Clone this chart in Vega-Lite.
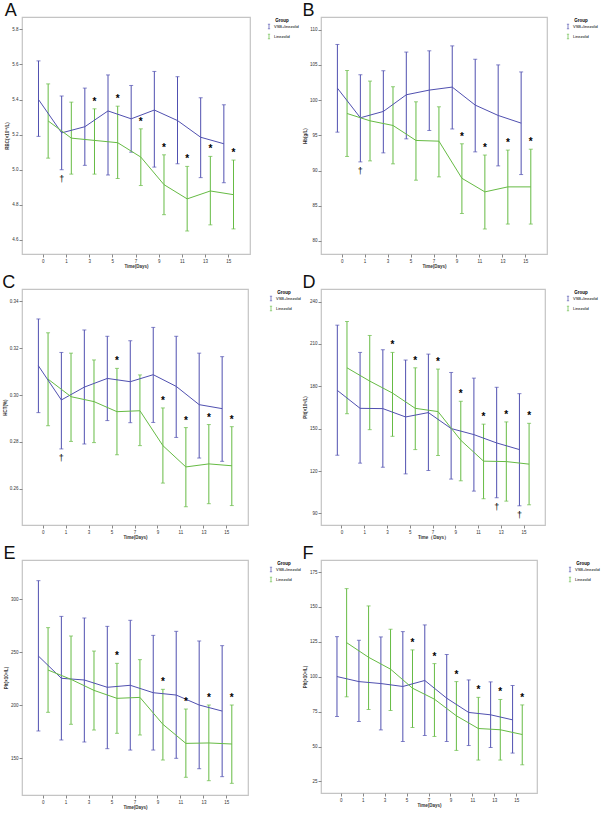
{
  "$schema": "https://vega.github.io/schema/vega-lite/v6.json",
  "padding": {"left": 1, "top": 1, "right": 0, "bottom": 0},
  "background": "white",
  "datasets": {
    "d": [
      {"p": "A", "day": "0", "g": "VSB+linezolid", "m": 5.40, "lo": 5.19, "hi": 5.62, "note": ""},
      {"p": "A", "day": "1", "g": "VSB+linezolid", "m": 5.21, "lo": 5.00, "hi": 5.42, "note": "†"},
      {"p": "A", "day": "3", "g": "VSB+linezolid", "m": 5.245, "lo": 5.025, "hi": 5.465, "note": ""},
      {"p": "A", "day": "5", "g": "VSB+linezolid", "m": 5.335, "lo": 4.97, "hi": 5.54, "note": ""},
      {"p": "A", "day": "7", "g": "VSB+linezolid", "m": 5.29, "lo": 5.10, "hi": 5.48, "note": ""},
      {"p": "A", "day": "9", "g": "VSB+linezolid", "m": 5.34, "lo": 5.015, "hi": 5.56, "note": ""},
      {"p": "A", "day": "11", "g": "VSB+linezolid", "m": 5.28, "lo": 5.034, "hi": 5.53, "note": ""},
      {"p": "A", "day": "13", "g": "VSB+linezolid", "m": 5.185, "lo": 4.955, "hi": 5.41, "note": ""},
      {"p": "A", "day": "15", "g": "VSB+linezolid", "m": 5.148, "lo": 4.926, "hi": 5.37, "note": ""},
      {"p": "A", "day": "0", "g": "Linezolid", "m": 5.278, "lo": 5.066, "hi": 5.489, "note": ""},
      {"p": "A", "day": "1", "g": "Linezolid", "m": 5.18, "lo": 4.975, "hi": 5.385, "note": ""},
      {"p": "A", "day": "3", "g": "Linezolid", "m": 5.167, "lo": 4.975, "hi": 5.347, "note": "*"},
      {"p": "A", "day": "5", "g": "Linezolid", "m": 5.154, "lo": 4.95, "hi": 5.362, "note": "*"},
      {"p": "A", "day": "7", "g": "Linezolid", "m": 5.072, "lo": 4.91, "hi": 5.233, "note": "*"},
      {"p": "A", "day": "9", "g": "Linezolid", "m": 4.915, "lo": 4.744, "hi": 5.085, "note": "*"},
      {"p": "A", "day": "11", "g": "Linezolid", "m": 4.834, "lo": 4.651, "hi": 5.019, "note": "*"},
      {"p": "A", "day": "13", "g": "Linezolid", "m": 4.879, "lo": 4.686, "hi": 5.076, "note": "*"},
      {"p": "A", "day": "15", "g": "Linezolid", "m": 4.858, "lo": 4.663, "hi": 5.055, "note": "*"},

      {"p": "B", "day": "0", "g": "VSB+linezolid", "m": 101.7, "lo": 95.45, "hi": 107.9, "note": ""},
      {"p": "B", "day": "1", "g": "VSB+linezolid", "m": 97.49, "lo": 91.23, "hi": 103.6, "note": "†"},
      {"p": "B", "day": "3", "g": "VSB+linezolid", "m": 98.39, "lo": 92.51, "hi": 104.17, "note": ""},
      {"p": "B", "day": "5", "g": "VSB+linezolid", "m": 100.76, "lo": 94.5, "hi": 106.82, "note": ""},
      {"p": "B", "day": "7", "g": "VSB+linezolid", "m": 101.42, "lo": 95.69, "hi": 107.0, "note": ""},
      {"p": "B", "day": "9", "g": "VSB+linezolid", "m": 101.85, "lo": 95.9, "hi": 107.7, "note": ""},
      {"p": "B", "day": "11", "g": "VSB+linezolid", "m": 99.29, "lo": 92.65, "hi": 105.8, "note": ""},
      {"p": "B", "day": "13", "g": "VSB+linezolid", "m": 97.82, "lo": 90.66, "hi": 105.0, "note": ""},
      {"p": "B", "day": "15", "g": "VSB+linezolid", "m": 96.73, "lo": 89.43, "hi": 104.0, "note": ""},
      {"p": "B", "day": "0", "g": "Linezolid", "m": 98.1, "lo": 92.0, "hi": 104.2, "note": ""},
      {"p": "B", "day": "1", "g": "Linezolid", "m": 97.06, "lo": 91.37, "hi": 102.7, "note": ""},
      {"p": "B", "day": "3", "g": "Linezolid", "m": 96.4, "lo": 90.95, "hi": 101.9, "note": ""},
      {"p": "B", "day": "5", "g": "Linezolid", "m": 94.27, "lo": 88.63, "hi": 99.76, "note": ""},
      {"p": "B", "day": "7", "g": "Linezolid", "m": 94.17, "lo": 89.1, "hi": 99.05, "note": ""},
      {"p": "B", "day": "9", "g": "Linezolid", "m": 88.9, "lo": 83.9, "hi": 93.8, "note": "*"},
      {"p": "B", "day": "11", "g": "Linezolid", "m": 86.97, "lo": 81.7, "hi": 92.2, "note": "*"},
      {"p": "B", "day": "13", "g": "Linezolid", "m": 87.68, "lo": 82.4, "hi": 92.9, "note": "*"},
      {"p": "B", "day": "15", "g": "Linezolid", "m": 87.68, "lo": 82.4, "hi": 93.03, "note": "*"},

      {"p": "C", "day": "0", "g": "VSB+linezolid", "m": 0.3125, "lo": 0.2925, "hi": 0.3325, "note": ""},
      {"p": "C", "day": "1", "g": "VSB+linezolid", "m": 0.2979, "lo": 0.2770, "hi": 0.3182, "note": "†"},
      {"p": "C", "day": "3", "g": "VSB+linezolid", "m": 0.3034, "lo": 0.2791, "hi": 0.3278, "note": ""},
      {"p": "C", "day": "5", "g": "VSB+linezolid", "m": 0.3071, "lo": 0.2891, "hi": 0.3251, "note": ""},
      {"p": "C", "day": "7", "g": "VSB+linezolid", "m": 0.3057, "lo": 0.2882, "hi": 0.3232, "note": ""},
      {"p": "C", "day": "9", "g": "VSB+linezolid", "m": 0.3087, "lo": 0.2883, "hi": 0.3289, "note": ""},
      {"p": "C", "day": "11", "g": "VSB+linezolid", "m": 0.3037, "lo": 0.2819, "hi": 0.3251, "note": ""},
      {"p": "C", "day": "13", "g": "VSB+linezolid", "m": 0.2959, "lo": 0.2731, "hi": 0.3179, "note": ""},
      {"p": "C", "day": "15", "g": "VSB+linezolid", "m": 0.2942, "lo": 0.2717, "hi": 0.3164, "note": ""},
      {"p": "C", "day": "0", "g": "Linezolid", "m": 0.3068, "lo": 0.2869, "hi": 0.3266, "note": ""},
      {"p": "C", "day": "1", "g": "Linezolid", "m": 0.2993, "lo": 0.2802, "hi": 0.3179, "note": ""},
      {"p": "C", "day": "3", "g": "Linezolid", "m": 0.2972, "lo": 0.2797, "hi": 0.3150, "note": ""},
      {"p": "C", "day": "5", "g": "Linezolid", "m": 0.2929, "lo": 0.2745, "hi": 0.3114, "note": "*"},
      {"p": "C", "day": "7", "g": "Linezolid", "m": 0.2933, "lo": 0.2784, "hi": 0.3086, "note": ""},
      {"p": "C", "day": "9", "g": "Linezolid", "m": 0.2784, "lo": 0.2624, "hi": 0.2945, "note": "*"},
      {"p": "C", "day": "11", "g": "Linezolid", "m": 0.2693, "lo": 0.2523, "hi": 0.2861, "note": "*"},
      {"p": "C", "day": "13", "g": "Linezolid", "m": 0.2706, "lo": 0.2536, "hi": 0.2874, "note": "*"},
      {"p": "C", "day": "15", "g": "Linezolid", "m": 0.2698, "lo": 0.2528, "hi": 0.2865, "note": "*"},

      {"p": "D", "day": "0", "g": "VSB+linezolid", "m": 177.1, "lo": 131.2, "hi": 223.3, "note": ""},
      {"p": "D", "day": "1", "g": "VSB+linezolid", "m": 164.4, "lo": 125.6, "hi": 204.0, "note": ""},
      {"p": "D", "day": "3", "g": "VSB+linezolid", "m": 164.2, "lo": 122.7, "hi": 205.9, "note": ""},
      {"p": "D", "day": "5", "g": "VSB+linezolid", "m": 158.3, "lo": 118.0, "hi": 198.6, "note": ""},
      {"p": "D", "day": "7", "g": "VSB+linezolid", "m": 161.4, "lo": 120.4, "hi": 202.8, "note": ""},
      {"p": "D", "day": "9", "g": "VSB+linezolid", "m": 150.1, "lo": 114.3, "hi": 189.8, "note": ""},
      {"p": "D", "day": "11", "g": "VSB+linezolid", "m": 145.8, "lo": 105.8, "hi": 185.8, "note": ""},
      {"p": "D", "day": "13", "g": "VSB+linezolid", "m": 139.9, "lo": 101.1, "hi": 179.3, "note": "†"},
      {"p": "D", "day": "15", "g": "VSB+linezolid", "m": 135.2, "lo": 95.4, "hi": 174.8, "note": "†"},
      {"p": "D", "day": "0", "g": "Linezolid", "m": 193.1, "lo": 160.6, "hi": 225.9, "note": ""},
      {"p": "D", "day": "1", "g": "Linezolid", "m": 183.7, "lo": 149.3, "hi": 216.0, "note": ""},
      {"p": "D", "day": "3", "g": "Linezolid", "m": 175.2, "lo": 144.6, "hi": 204.0, "note": "*"},
      {"p": "D", "day": "5", "g": "Linezolid", "m": 164.4, "lo": 135.2, "hi": 193.1, "note": "*"},
      {"p": "D", "day": "7", "g": "Linezolid", "m": 162.1, "lo": 131.0, "hi": 192.2, "note": "*"},
      {"p": "D", "day": "9", "g": "Linezolid", "m": 141.8, "lo": 113.1, "hi": 169.4, "note": "*"},
      {"p": "D", "day": "11", "g": "Linezolid", "m": 127.0, "lo": 100.4, "hi": 153.2, "note": "*"},
      {"p": "D", "day": "13", "g": "Linezolid", "m": 126.7, "lo": 98.7, "hi": 154.8, "note": "*"},
      {"p": "D", "day": "15", "g": "Linezolid", "m": 124.9, "lo": 96.1, "hi": 153.8, "note": "*"},

      {"p": "E", "day": "0", "g": "VSB+linezolid", "m": 246.2, "lo": 175.5, "hi": 317.3, "note": ""},
      {"p": "E", "day": "1", "g": "VSB+linezolid", "m": 225.2, "lo": 167.0, "hi": 283.6, "note": ""},
      {"p": "E", "day": "3", "g": "VSB+linezolid", "m": 223.6, "lo": 165.1, "hi": 282.1, "note": ""},
      {"p": "E", "day": "5", "g": "VSB+linezolid", "m": 216.7, "lo": 158.8, "hi": 274.2, "note": ""},
      {"p": "E", "day": "7", "g": "VSB+linezolid", "m": 218.6, "lo": 157.5, "hi": 279.9, "note": ""},
      {"p": "E", "day": "9", "g": "VSB+linezolid", "m": 211.6, "lo": 157.5, "hi": 265.7, "note": ""},
      {"p": "E", "day": "11", "g": "VSB+linezolid", "m": 209.4, "lo": 149.7, "hi": 269.5, "note": ""},
      {"p": "E", "day": "13", "g": "VSB+linezolid", "m": 200.0, "lo": 139.9, "hi": 260.4, "note": ""},
      {"p": "E", "day": "15", "g": "VSB+linezolid", "m": 194.3, "lo": 132.4, "hi": 256.0, "note": ""},
      {"p": "E", "day": "0", "g": "Linezolid", "m": 233.0, "lo": 193.1, "hi": 273.0, "note": ""},
      {"p": "E", "day": "1", "g": "Linezolid", "m": 224.2, "lo": 181.8, "hi": 265.1, "note": ""},
      {"p": "E", "day": "3", "g": "Linezolid", "m": 213.8, "lo": 176.4, "hi": 250.9, "note": ""},
      {"p": "E", "day": "5", "g": "Linezolid", "m": 206.3, "lo": 173.3, "hi": 239.3, "note": "*"},
      {"p": "E", "day": "7", "g": "Linezolid", "m": 207.2, "lo": 171.7, "hi": 242.8, "note": ""},
      {"p": "E", "day": "9", "g": "Linezolid", "m": 181.8, "lo": 148.1, "hi": 214.8, "note": "*"},
      {"p": "E", "day": "11", "g": "Linezolid", "m": 163.8, "lo": 131.8, "hi": 196.2, "note": "*"},
      {"p": "E", "day": "13", "g": "Linezolid", "m": 164.2, "lo": 128.6, "hi": 200.0, "note": "*"},
      {"p": "E", "day": "15", "g": "Linezolid", "m": 163.2, "lo": 126.1, "hi": 200.0, "note": "*"},

      {"p": "F", "day": "0", "g": "VSB+linezolid", "m": 100.1, "lo": 71.5, "hi": 128.7, "note": ""},
      {"p": "F", "day": "1", "g": "VSB+linezolid", "m": 96.5, "lo": 67.9, "hi": 126.1, "note": ""},
      {"p": "F", "day": "3", "g": "VSB+linezolid", "m": 95.1, "lo": 61.9, "hi": 128.5, "note": ""},
      {"p": "F", "day": "5", "g": "VSB+linezolid", "m": 93.0, "lo": 53.6, "hi": 132.3, "note": ""},
      {"p": "F", "day": "7", "g": "VSB+linezolid", "m": 97.3, "lo": 57.9, "hi": 137.1, "note": ""},
      {"p": "F", "day": "9", "g": "VSB+linezolid", "m": 84.6, "lo": 53.6, "hi": 115.9, "note": ""},
      {"p": "F", "day": "11", "g": "VSB+linezolid", "m": 74.4, "lo": 50.7, "hi": 97.7, "note": ""},
      {"p": "F", "day": "13", "g": "VSB+linezolid", "m": 72.7, "lo": 49.3, "hi": 96.3, "note": ""},
      {"p": "F", "day": "15", "g": "VSB+linezolid", "m": 69.1, "lo": 45.3, "hi": 93.7, "note": ""},
      {"p": "F", "day": "0", "g": "Linezolid", "m": 124.4, "lo": 85.6, "hi": 163.1, "note": ""},
      {"p": "F", "day": "1", "g": "Linezolid", "m": 113.9, "lo": 76.5, "hi": 150.7, "note": ""},
      {"p": "F", "day": "3", "g": "Linezolid", "m": 105.4, "lo": 75.8, "hi": 134.0, "note": ""},
      {"p": "F", "day": "5", "g": "Linezolid", "m": 91.8, "lo": 63.6, "hi": 119.2, "note": "*"},
      {"p": "F", "day": "7", "g": "Linezolid", "m": 83.9, "lo": 57.2, "hi": 109.4, "note": "*"},
      {"p": "F", "day": "9", "g": "Linezolid", "m": 72.0, "lo": 47.2, "hi": 96.5, "note": "*"},
      {"p": "F", "day": "11", "g": "Linezolid", "m": 62.9, "lo": 40.3, "hi": 85.2, "note": "*"},
      {"p": "F", "day": "13", "g": "Linezolid", "m": 62.0, "lo": 40.3, "hi": 83.7, "note": "*"},
      {"p": "F", "day": "15", "g": "Linezolid", "m": 58.6, "lo": 36.9, "hi": 79.8, "note": "*"}
    ]
  },
  "columns": 2,
  "spacing": {"row": 4, "column": -1},
  "resolve": {"scale": {"y": "independent", "x": "independent"}, "legend": {"color": "independent"}},
  "concat": [
    {
      "title": {"text": "A"},
      "width": 228, "height": 237,
      "data": {"name": "d"},
      "transform": [{"filter": "datum.p == 'A'"}],
      "encoding": {
        "x": {"field": "day", "type": "ordinal", "sort": ["0","1","3","5","7","9","11","13","15"], "scale": {"paddingInner": 0, "paddingOuter": 0.42}, "axis": {"title": "Time(Days)", "labelAngle": 0}},
        "xOffset": {"field": "g", "type": "nominal", "scale": {"domain": ["VSB+linezolid", "Linezolid"], "paddingInner": 0, "paddingOuter": 0.2}},
        "color": {"field": "g", "type": "nominal", "scale": {"domain": ["VSB+linezolid", "Linezolid"], "range": ["#5050b0", "#66bb44"]}, "legend": {"title": "Group", "orient": "none", "legendX": 244, "legendY": 1}}
      },
      "layer": [
        {"mark": {"type": "rule", "strokeWidth": 1}, "encoding": {"y": {"field": "lo", "type": "quantitative", "title": "RBC(×10¹²/L)", "scale": {"domain": [4.52, 5.87], "nice": false, "zero": false}, "axis": {"values": [4.6, 4.8, 5.0, 5.2, 5.4, 5.6, 5.8], "format": ".1f", "labelOverlap": false}}, "y2": {"field": "hi"}}},
        {"mark": {"type": "tick", "orient": "horizontal", "size": 4, "thickness": 1}, "encoding": {"y": {"field": "lo", "type": "quantitative", "title": "RBC(×10¹²/L)", "axis": {"values": [4.6, 4.8, 5.0, 5.2, 5.4, 5.6, 5.8], "format": ".1f", "labelOverlap": false}}}},
        {"mark": {"type": "tick", "orient": "horizontal", "size": 4, "thickness": 1}, "encoding": {"y": {"field": "hi", "type": "quantitative", "title": "RBC(×10¹²/L)", "axis": {"values": [4.6, 4.8, 5.0, 5.2, 5.4, 5.6, 5.8], "format": ".1f", "labelOverlap": false}}}},
        {"mark": {"type": "line", "strokeWidth": 1}, "encoding": {"y": {"field": "m", "type": "quantitative", "title": "RBC(×10¹²/L)", "axis": {"values": [4.6, 4.8, 5.0, 5.2, 5.4, 5.6, 5.8], "format": ".1f", "labelOverlap": false}}}},
        {"transform": [{"filter": "datum.g == 'Linezolid'"}], "mark": {"type": "text", "dy": -7, "fontSize": 10, "fontWeight": "bold", "baseline": "middle"}, "encoding": {"y": {"field": "hi", "type": "quantitative", "title": "RBC(×10¹²/L)", "axis": {"values": [4.6, 4.8, 5.0, 5.2, 5.4, 5.6, 5.8], "format": ".1f", "labelOverlap": false}}, "text": {"field": "note"}, "color": {"value": "black"}}},
        {"transform": [{"filter": "datum.g == 'VSB+linezolid'"}], "mark": {"type": "text", "dy": 9, "fontSize": 9, "baseline": "middle"}, "encoding": {"y": {"field": "lo", "type": "quantitative", "title": "RBC(×10¹²/L)", "axis": {"values": [4.6, 4.8, 5.0, 5.2, 5.4, 5.6, 5.8], "format": ".1f", "labelOverlap": false}}, "text": {"field": "note"}, "color": {"value": "black"}}}
      ]
    },
    {
      "title": {"text": "B"},
      "width": 226, "height": 237,
      "data": {"name": "d"},
      "transform": [{"filter": "datum.p == 'B'"}],
      "encoding": {
        "x": {"field": "day", "type": "ordinal", "sort": ["0","1","3","5","7","9","11","13","15"], "scale": {"paddingInner": 0, "paddingOuter": 0.42}, "axis": {"title": "Time(Days)", "labelAngle": 0}},
        "xOffset": {"field": "g", "type": "nominal", "scale": {"domain": ["VSB+linezolid", "Linezolid"], "paddingInner": 0, "paddingOuter": 0.2}},
        "color": {"field": "g", "type": "nominal", "scale": {"domain": ["VSB+linezolid", "Linezolid"], "range": ["#5050b0", "#66bb44"]}, "legend": {"title": "Group", "orient": "none", "legendX": 244, "legendY": 1}}
      },
      "layer": [
        {"mark": {"type": "rule", "strokeWidth": 1}, "encoding": {"y": {"field": "lo", "type": "quantitative", "title": "Hb(g/L)", "scale": {"domain": [78.15, 111.8], "nice": false, "zero": false}, "axis": {"values": [80, 85, 90, 95, 100, 105, 110], "labelOverlap": false}}, "y2": {"field": "hi"}}},
        {"mark": {"type": "tick", "orient": "horizontal", "size": 4, "thickness": 1}, "encoding": {"y": {"field": "lo", "type": "quantitative", "title": "Hb(g/L)", "axis": {"values": [80, 85, 90, 95, 100, 105, 110], "labelOverlap": false}}}},
        {"mark": {"type": "tick", "orient": "horizontal", "size": 4, "thickness": 1}, "encoding": {"y": {"field": "hi", "type": "quantitative", "title": "Hb(g/L)", "axis": {"values": [80, 85, 90, 95, 100, 105, 110], "labelOverlap": false}}}},
        {"mark": {"type": "line", "strokeWidth": 1}, "encoding": {"y": {"field": "m", "type": "quantitative", "title": "Hb(g/L)", "axis": {"values": [80, 85, 90, 95, 100, 105, 110], "labelOverlap": false}}}},
        {"transform": [{"filter": "datum.g == 'Linezolid'"}], "mark": {"type": "text", "dy": -7, "fontSize": 10, "fontWeight": "bold", "baseline": "middle"}, "encoding": {"y": {"field": "hi", "type": "quantitative", "title": "Hb(g/L)", "axis": {"values": [80, 85, 90, 95, 100, 105, 110], "labelOverlap": false}}, "text": {"field": "note"}, "color": {"value": "black"}}},
        {"transform": [{"filter": "datum.g == 'VSB+linezolid'"}], "mark": {"type": "text", "dy": 9, "fontSize": 9, "baseline": "middle"}, "encoding": {"y": {"field": "lo", "type": "quantitative", "title": "Hb(g/L)", "axis": {"values": [80, 85, 90, 95, 100, 105, 110], "labelOverlap": false}}, "text": {"field": "note"}, "color": {"value": "black"}}}
      ]
    },
    {
      "title": {"text": "C"},
      "width": 226, "height": 236,
      "data": {"name": "d"},
      "transform": [{"filter": "datum.p == 'C'"}],
      "encoding": {
        "x": {"field": "day", "type": "ordinal", "sort": ["0","1","3","5","7","9","11","13","15"], "scale": {"paddingInner": 0, "paddingOuter": 0.42}, "axis": {"title": "Time(Days)", "labelAngle": 0}},
        "xOffset": {"field": "g", "type": "nominal", "scale": {"domain": ["VSB+linezolid", "Linezolid"], "paddingInner": 0, "paddingOuter": 0.2}},
        "color": {"field": "g", "type": "nominal", "scale": {"domain": ["VSB+linezolid", "Linezolid"], "range": ["#5050b0", "#66bb44"]}, "legend": {"title": "Group", "orient": "none", "legendX": 246, "legendY": 1}}
      },
      "layer": [
        {"mark": {"type": "rule", "strokeWidth": 1}, "encoding": {"y": {"field": "lo", "type": "quantitative", "title": "HCT(%)", "scale": {"domain": [0.2445, 0.3453], "nice": false, "zero": false}, "axis": {"values": [0.26, 0.28, 0.30, 0.32, 0.34], "format": ".2f", "labelOverlap": false}}, "y2": {"field": "hi"}}},
        {"mark": {"type": "tick", "orient": "horizontal", "size": 4, "thickness": 1}, "encoding": {"y": {"field": "lo", "type": "quantitative", "title": "HCT(%)", "axis": {"values": [0.26, 0.28, 0.30, 0.32, 0.34], "format": ".2f", "labelOverlap": false}}}},
        {"mark": {"type": "tick", "orient": "horizontal", "size": 4, "thickness": 1}, "encoding": {"y": {"field": "hi", "type": "quantitative", "title": "HCT(%)", "axis": {"values": [0.26, 0.28, 0.30, 0.32, 0.34], "format": ".2f", "labelOverlap": false}}}},
        {"mark": {"type": "line", "strokeWidth": 1}, "encoding": {"y": {"field": "m", "type": "quantitative", "title": "HCT(%)", "axis": {"values": [0.26, 0.28, 0.30, 0.32, 0.34], "format": ".2f", "labelOverlap": false}}}},
        {"transform": [{"filter": "datum.g == 'Linezolid'"}], "mark": {"type": "text", "dy": -7, "fontSize": 10, "fontWeight": "bold", "baseline": "middle"}, "encoding": {"y": {"field": "hi", "type": "quantitative", "title": "HCT(%)", "axis": {"values": [0.26, 0.28, 0.30, 0.32, 0.34], "format": ".2f", "labelOverlap": false}}, "text": {"field": "note"}, "color": {"value": "black"}}},
        {"transform": [{"filter": "datum.g == 'VSB+linezolid'"}], "mark": {"type": "text", "dy": 9, "fontSize": 9, "baseline": "middle"}, "encoding": {"y": {"field": "lo", "type": "quantitative", "title": "HCT(%)", "axis": {"values": [0.26, 0.28, 0.30, 0.32, 0.34], "format": ".2f", "labelOverlap": false}}, "text": {"field": "note"}, "color": {"value": "black"}}}
      ]
    },
    {
      "title": {"text": "D"},
      "width": 224, "height": 236,
      "data": {"name": "d"},
      "transform": [{"filter": "datum.p == 'D'"}],
      "encoding": {
        "x": {"field": "day", "type": "ordinal", "sort": ["0","1","3","5","7","9","11","13","15"], "scale": {"paddingInner": 0, "paddingOuter": 0.42}, "axis": {"title": "Time（Days）", "labelAngle": 0}},
        "xOffset": {"field": "g", "type": "nominal", "scale": {"domain": ["VSB+linezolid", "Linezolid"], "paddingInner": 0, "paddingOuter": 0.2}},
        "color": {"field": "g", "type": "nominal", "scale": {"domain": ["VSB+linezolid", "Linezolid"], "range": ["#5050b0", "#66bb44"]}, "legend": {"title": "Group", "orient": "none", "legendX": 244, "legendY": 1}}
      },
      "layer": [
        {"mark": {"type": "rule", "strokeWidth": 1}, "encoding": {"y": {"field": "lo", "type": "quantitative", "title": "Plt(×10⁹/L)", "scale": {"domain": [81.8, 248.9], "nice": false, "zero": false}, "axis": {"values": [90, 120, 150, 180, 210, 240], "labelOverlap": false}}, "y2": {"field": "hi"}}},
        {"mark": {"type": "tick", "orient": "horizontal", "size": 4, "thickness": 1}, "encoding": {"y": {"field": "lo", "type": "quantitative", "title": "Plt(×10⁹/L)", "axis": {"values": [90, 120, 150, 180, 210, 240], "labelOverlap": false}}}},
        {"mark": {"type": "tick", "orient": "horizontal", "size": 4, "thickness": 1}, "encoding": {"y": {"field": "hi", "type": "quantitative", "title": "Plt(×10⁹/L)", "axis": {"values": [90, 120, 150, 180, 210, 240], "labelOverlap": false}}}},
        {"mark": {"type": "line", "strokeWidth": 1}, "encoding": {"y": {"field": "m", "type": "quantitative", "title": "Plt(×10⁹/L)", "axis": {"values": [90, 120, 150, 180, 210, 240], "labelOverlap": false}}}},
        {"transform": [{"filter": "datum.g == 'Linezolid'"}], "mark": {"type": "text", "dy": -7, "fontSize": 10, "fontWeight": "bold", "baseline": "middle"}, "encoding": {"y": {"field": "hi", "type": "quantitative", "title": "Plt(×10⁹/L)", "axis": {"values": [90, 120, 150, 180, 210, 240], "labelOverlap": false}}, "text": {"field": "note"}, "color": {"value": "black"}}},
        {"transform": [{"filter": "datum.g == 'VSB+linezolid'"}], "mark": {"type": "text", "dy": 9, "fontSize": 9, "baseline": "middle"}, "encoding": {"y": {"field": "lo", "type": "quantitative", "title": "Plt(×10⁹/L)", "axis": {"values": [90, 120, 150, 180, 210, 240], "labelOverlap": false}}, "text": {"field": "note"}, "color": {"value": "black"}}}
      ]
    },
    {
      "title": {"text": "E"},
      "width": 226, "height": 235,
      "data": {"name": "d"},
      "transform": [{"filter": "datum.p == 'E'"}],
      "encoding": {
        "x": {"field": "day", "type": "ordinal", "sort": ["0","1","3","5","7","9","11","13","15"], "scale": {"paddingInner": 0, "paddingOuter": 0.42}, "axis": {"title": "Time(Days)", "labelAngle": 0}},
        "xOffset": {"field": "g", "type": "nominal", "scale": {"domain": ["VSB+linezolid", "Linezolid"], "paddingInner": 0, "paddingOuter": 0.2}},
        "color": {"field": "g", "type": "nominal", "scale": {"domain": ["VSB+linezolid", "Linezolid"], "range": ["#5050b0", "#66bb44"]}, "legend": {"title": "Group", "orient": "none", "legendX": 246, "legendY": 1}}
      },
      "layer": [
        {"mark": {"type": "rule", "strokeWidth": 1}, "encoding": {"y": {"field": "lo", "type": "quantitative", "title": "Plt(×10⁹/L)", "scale": {"domain": [115.1, 336.8], "nice": false, "zero": false}, "axis": {"values": [150, 200, 250, 300], "labelOverlap": false}}, "y2": {"field": "hi"}}},
        {"mark": {"type": "tick", "orient": "horizontal", "size": 4, "thickness": 1}, "encoding": {"y": {"field": "lo", "type": "quantitative", "title": "Plt(×10⁹/L)", "axis": {"values": [150, 200, 250, 300], "labelOverlap": false}}}},
        {"mark": {"type": "tick", "orient": "horizontal", "size": 4, "thickness": 1}, "encoding": {"y": {"field": "hi", "type": "quantitative", "title": "Plt(×10⁹/L)", "axis": {"values": [150, 200, 250, 300], "labelOverlap": false}}}},
        {"mark": {"type": "line", "strokeWidth": 1}, "encoding": {"y": {"field": "m", "type": "quantitative", "title": "Plt(×10⁹/L)", "axis": {"values": [150, 200, 250, 300], "labelOverlap": false}}}},
        {"transform": [{"filter": "datum.g == 'Linezolid'"}], "mark": {"type": "text", "dy": -7, "fontSize": 10, "fontWeight": "bold", "baseline": "middle"}, "encoding": {"y": {"field": "hi", "type": "quantitative", "title": "Plt(×10⁹/L)", "axis": {"values": [150, 200, 250, 300], "labelOverlap": false}}, "text": {"field": "note"}, "color": {"value": "black"}}},
        {"transform": [{"filter": "datum.g == 'VSB+linezolid'"}], "mark": {"type": "text", "dy": 9, "fontSize": 9, "baseline": "middle"}, "encoding": {"y": {"field": "lo", "type": "quantitative", "title": "Plt(×10⁹/L)", "axis": {"values": [150, 200, 250, 300], "labelOverlap": false}}, "text": {"field": "note"}, "color": {"value": "black"}}}
      ]
    },
    {
      "title": {"text": "F"},
      "width": 216, "height": 233,
      "data": {"name": "d"},
      "transform": [{"filter": "datum.p == 'F'"}],
      "encoding": {
        "x": {"field": "day", "type": "ordinal", "sort": ["0","1","3","5","7","9","11","13","15"], "scale": {"paddingInner": 0, "paddingOuter": 0.42}, "axis": {"title": "Time(Days)", "labelAngle": 0}},
        "xOffset": {"field": "g", "type": "nominal", "scale": {"domain": ["VSB+linezolid", "Linezolid"], "paddingInner": 0, "paddingOuter": 0.2}},
        "color": {"field": "g", "type": "nominal", "scale": {"domain": ["VSB+linezolid", "Linezolid"], "range": ["#5050b0", "#66bb44"]}, "legend": {"title": "Group", "orient": "none", "legendX": 246, "legendY": 1}}
      },
      "layer": [
        {"mark": {"type": "rule", "strokeWidth": 1}, "encoding": {"y": {"field": "lo", "type": "quantitative", "title": "Plt(×10⁹/L)", "scale": {"domain": [16.7, 183.6], "nice": false, "zero": false}, "axis": {"values": [25, 50, 75, 100, 125, 150, 175], "labelOverlap": false}}, "y2": {"field": "hi"}}},
        {"mark": {"type": "tick", "orient": "horizontal", "size": 4, "thickness": 1}, "encoding": {"y": {"field": "lo", "type": "quantitative", "title": "Plt(×10⁹/L)", "axis": {"values": [25, 50, 75, 100, 125, 150, 175], "labelOverlap": false}}}},
        {"mark": {"type": "tick", "orient": "horizontal", "size": 4, "thickness": 1}, "encoding": {"y": {"field": "hi", "type": "quantitative", "title": "Plt(×10⁹/L)", "axis": {"values": [25, 50, 75, 100, 125, 150, 175], "labelOverlap": false}}}},
        {"mark": {"type": "line", "strokeWidth": 1}, "encoding": {"y": {"field": "m", "type": "quantitative", "title": "Plt(×10⁹/L)", "axis": {"values": [25, 50, 75, 100, 125, 150, 175], "labelOverlap": false}}}},
        {"transform": [{"filter": "datum.g == 'Linezolid'"}], "mark": {"type": "text", "dy": -7, "fontSize": 10, "fontWeight": "bold", "baseline": "middle"}, "encoding": {"y": {"field": "hi", "type": "quantitative", "title": "Plt(×10⁹/L)", "axis": {"values": [25, 50, 75, 100, 125, 150, 175], "labelOverlap": false}}, "text": {"field": "note"}, "color": {"value": "black"}}},
        {"transform": [{"filter": "datum.g == 'VSB+linezolid'"}], "mark": {"type": "text", "dy": 9, "fontSize": 9, "baseline": "middle"}, "encoding": {"y": {"field": "lo", "type": "quantitative", "title": "Plt(×10⁹/L)", "axis": {"values": [25, 50, 75, 100, 125, 150, 175], "labelOverlap": false}}, "text": {"field": "note"}, "color": {"value": "black"}}}
      ]
    }
  ],
  "config": {
    "font": "Liberation Sans",
    "view": {"stroke": "#c4c4c4", "strokeWidth": 1.2},
    "axis": {"grid": false, "domain": false, "labelFontSize": 4.5, "titleFontSize": 4.5, "titleFontWeight": "bold", "labelColor": "#333", "titleColor": "#333", "tickColor": "#888", "tickSize": 3, "labelPadding": 1, "titlePadding": 2, "labelOverlap": false, "labelSeparation": 0},
    "axisY": {"labelOverlap": false},
    "axisQuantitative": {"labelOverlap": false},
    "axisX": {"titlePadding": 1},
    "title": {"fontSize": 18, "fontWeight": "normal", "anchor": "start", "frame": "bounds", "offset": -3, "color": "#111"},
    "legend": {"symbolType": "M0,-1L0,1M-0.5,-1L0.5,-1M-0.5,1L0.5,1", "symbolSize": 20, "symbolStrokeWidth": 1, "symbolFillColor": "transparent", "labelFontSize": 4, "titleFontSize": 4.5, "titleFontWeight": "bold", "rowPadding": 0, "titlePadding": 1, "labelOffset": 2, "titleAnchor": "middle"}
  }
}
